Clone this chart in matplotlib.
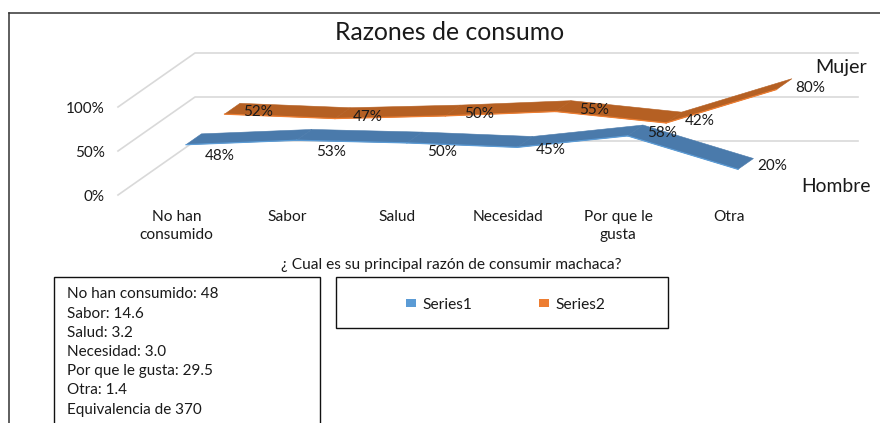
import matplotlib
matplotlib.use("Agg")
import matplotlib.pyplot as plt
from matplotlib.patches import Polygon, Rectangle

plt.rcParams['font.family'] = ['Lato', 'DejaVu Sans']

title = "Razones de consumo"
axis_title = "¿ Cual es su principal razón de consumir machaca?"
categories = ["No han\nconsumido", "Sabor", "Salud", "Necesidad", "Por que le\ngusta", "Otra"]
hombre = [48, 53, 50, 45, 58, 20]
mujer = [52, 47, 50, 55, 42, 80]
y_ticks = [0, 50, 100]
legend_names = ["Series1", "Series2"]
note_lines = ["No han consumido: 48", "Sabor: 14.6", "Salud: 3.2", "Necesidad: 3.0",
              "Por que le gusta: 29.5", "Otra: 1.4", "Equivalencia de 370"]

X0, STEP, Y0, YS, DX, DY = 174.5, 110.4, 195.0, 0.88, 77.0, 54.0
BLUE, BLUE_E, ORANGE, ORANGE_E = "#4a7aab", "#5b9bd5", "#b56023", "#ed7d31"
GRID = "#d9d9d9"
TXT = "#1a1a1a"


def proj(i, v, d):
    return X0 + STEP * i + DX * d, Y0 - YS * v - DY * d


fig = plt.figure(figsize=(8.8, 4.23), dpi=100)
ax = fig.add_axes([0, 0, 1, 1])
ax.set_xlim(0, 880)
ax.set_ylim(423, 0)
ax.axis("off")

# outer frame
ax.plot([8.5, 8.5], [423, 13], color="#333333", lw=1.1)
ax.plot([8.5, 880], [13, 13], color="#333333", lw=1.1)

# walls
for t in y_ticks:
    y = Y0 - YS * t
    ax.plot([118, 118 + DX, 858], [y, y - DY, y - DY], color=GRID, lw=1.2, zorder=1)
    ax.text(105, y + 2, f"{t}%", ha="right", va="center", fontsize=11, color=TXT)


def ribbon(vals, d0, d1, face, edge):
    for i in range(len(vals) - 1):
        pts = [proj(i, vals[i], d0), proj(i + 1, vals[i + 1], d0),
               proj(i + 1, vals[i + 1], d1), proj(i, vals[i], d1)]
        ax.add_patch(Polygon(pts, closed=True, fc=face, ec=face, lw=0.4, zorder=3))
        ax.plot([pts[0][0], pts[1][0]], [pts[0][1], pts[1][1]], color=edge, lw=0.9, zorder=3.1)


ribbon(mujer, 0.65, 0.85, ORANGE, ORANGE_E)
ribbon(hombre, 0.15, 0.35, BLUE, BLUE_E)

off_h = [(26, 16.5), (27, 17.5), (27, 15), (26, 8.5), (27, 3), (26, 2.5)]
off_m = [(26, 2.8), (25, 3.5), (26, 3), (31, 3.5), (26, 3), (26, 3.5)]
for vals, d, offs in ((hombre, 0.25, off_h), (mujer, 0.75, off_m)):
    for i, v in enumerate(vals):
        x, y = proj(i, v, d)
        ax.text(x + offs[i][0], y + offs[i][1], f"{v}%", ha="center", va="center",
                fontsize=11, color=TXT, zorder=5)

ax.text(450, 32, title, ha="center", va="center", fontsize=17.8, color=TXT)
ax.text(841, 68, "Mujer", ha="center", va="center", fontsize=14.2, color=TXT)
ax.text(836, 187, "Hombre", ha="center", va="center", fontsize=13.9, color=TXT)

for i, c in enumerate(categories):
    ax.text(X0 + STEP * i + 2, 210, c, ha="center", va="top", fontsize=11.2, color=TXT, linespacing=1.4)

ax.text(451, 265, axis_title, ha="center", va="center", fontsize=11.2, color=TXT)

# note box
ax.add_patch(Rectangle((54, 277), 266, 160, fc="white", ec="#111111", lw=1.0, zorder=2))
for k, line in enumerate(note_lines):
    ax.text(67, 294.5 + k * 19.2, line, ha="left", va="center", fontsize=11, color=TXT, zorder=3)

# legend box
ax.add_patch(Rectangle((336, 277), 332, 51, fc="white", ec="#111111", lw=1.0, zorder=2))
for x, name, col in ((406, legend_names[0], BLUE_E), (539, legend_names[1], ORANGE_E)):
    ax.add_patch(Rectangle((x, 299), 10, 8, fc=col, ec="none", zorder=3))
    ax.text(x + 16, 305, name, ha="left", va="center", fontsize=11.2, color=TXT, zorder=3)

fig.savefig("out.png", dpi=100)
